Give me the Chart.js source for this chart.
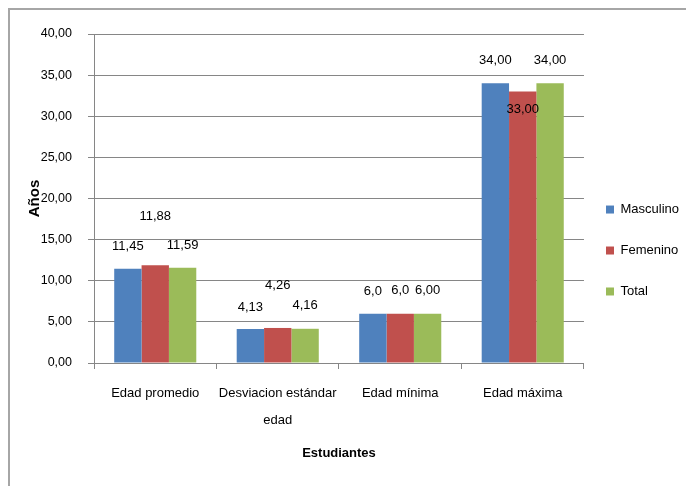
<!DOCTYPE html>
<html>
<head>
<meta charset="utf-8">
<script src="https://cdn.jsdelivr.net/npm/chart.js@4.4.1/dist/chart.umd.min.js"></script>
<style>
  body { margin: 0; background: #fff; }
  .frame { position: absolute; left: 8px; top: 8px; width: 720px; height: 520px;
           border-left: 2px solid #a6a6a6; border-top: 2px solid #a6a6a6; }
  #chart { position: absolute; left: 0; top: 0; }
</style>
</head>
<body>
<div class="frame"></div>
<canvas id="chart" width="686" height="486"></canvas>
<script>
const categories = ['Edad promedio', ['Desviacion estándar', 'edad'], 'Edad mínima', 'Edad máxima'];
const masculino = [11.45, 4.13, 6.0, 34.0];
const femenino = [11.88, 4.26, 6.0, 33.0];
const total = [11.59, 4.16, 6.0, 34.0];
// labels as printed on the chart (some show one decimal)
const masculinoText = ['11,45', '4,13', '6,0', '34,00'];
const femeninoText = ['11,88', '4,26', '6,0', '33,00'];
const totalText = ['11,59', '4,16', '6,00', '34,00'];

const FONT = "'Liberation Sans', Arial, sans-serif";

// draws the value text above each bar; lift = px above the bar top
const valueLabels = {
  id: 'valueLabels',
  afterDatasetsDraw(chart, args, opts) {
    const ctx = chart.ctx;
    ctx.save();
    ctx.font = '13px ' + FONT;
    ctx.fillStyle = '#000';
    ctx.textAlign = 'center';
    ctx.textBaseline = 'middle';
    chart.data.datasets.forEach((ds, i) => {
      chart.getDatasetMeta(i).data.forEach((bar, j) => {
        ctx.fillText(ds.labelText[j], bar.x, bar.y - opts.lift[i][j]);
      });
    });
    ctx.restore();
  }
};

new Chart(document.getElementById('chart'), {
  type: 'bar',
  data: {
    labels: categories,
    datasets: [
      { label: 'Masculino', data: masculino, labelText: masculinoText, backgroundColor: '#4f81bd' },
      { label: 'Femenino', data: femenino, labelText: femeninoText, backgroundColor: '#c0504d' },
      { label: 'Total', data: total, labelText: totalText, backgroundColor: '#9bbb59' }
    ]
  },
  options: {
    responsive: false,
    animation: false,
    layout: { padding: { left: 26, top: 34, bottom: 13, right: -3 } },
    datasets: { bar: { categoryPercentage: 0.67, barPercentage: 1 } },
    scales: {
      x: {
        grid: { display: true, drawOnChartArea: false, tickLength: 6, color: '#868686' },
        border: { color: '#868686' },
        ticks: { color: '#000', padding: 10.5, maxRotation: 0, autoSkip: false,
                 font: { family: FONT, size: 13, lineHeight: 2.12 } },
        title: { display: true, text: 'Estudiantes', color: '#000',
                 font: { family: FONT, size: 13, weight: 'bold' }, padding: { top: 0, bottom: 12 } },
        afterFit(scale) { scale.height = 110; }
      },
      y: {
        min: 0, max: 40,
        ticks: { stepSize: 5, color: '#000', padding: 16, font: { family: FONT, size: 12.5 },
                 callback: v => v.toFixed(2).replace('.', ',') },
        grid: { color: '#868686', tickLength: 6 },
        border: { color: '#868686' },
        title: { display: true, text: 'Años', color: '#000',
                 font: { family: FONT, size: 15, weight: 'bold' },
                 padding: { top: 0, bottom: 0 } },
        afterFit(scale) { scale.width = 68; }
      }
    },
    plugins: {
      legend: {
        position: 'right',
        labels: {
          boxWidth: 8, boxHeight: 8, padding: 22, color: '#000',
          font: { family: FONT, size: 13, lineHeight: 1.46 },
          generateLabels(chart) {
            return Chart.defaults.plugins.legend.labels.generateLabels(chart)
              .map(l => Object.assign(l, { text: [l.text] }));
          }
        }
      },
      tooltip: { enabled: false },
      valueLabels: {
        lift: [
          [22, 22, 22, 22.5],
          [49, 43, 23, -18],
          [22.5, 23, 23, 22.5]
        ]
      }
    }
  },
  plugins: [valueLabels]
});
</script>
</body>
</html>
